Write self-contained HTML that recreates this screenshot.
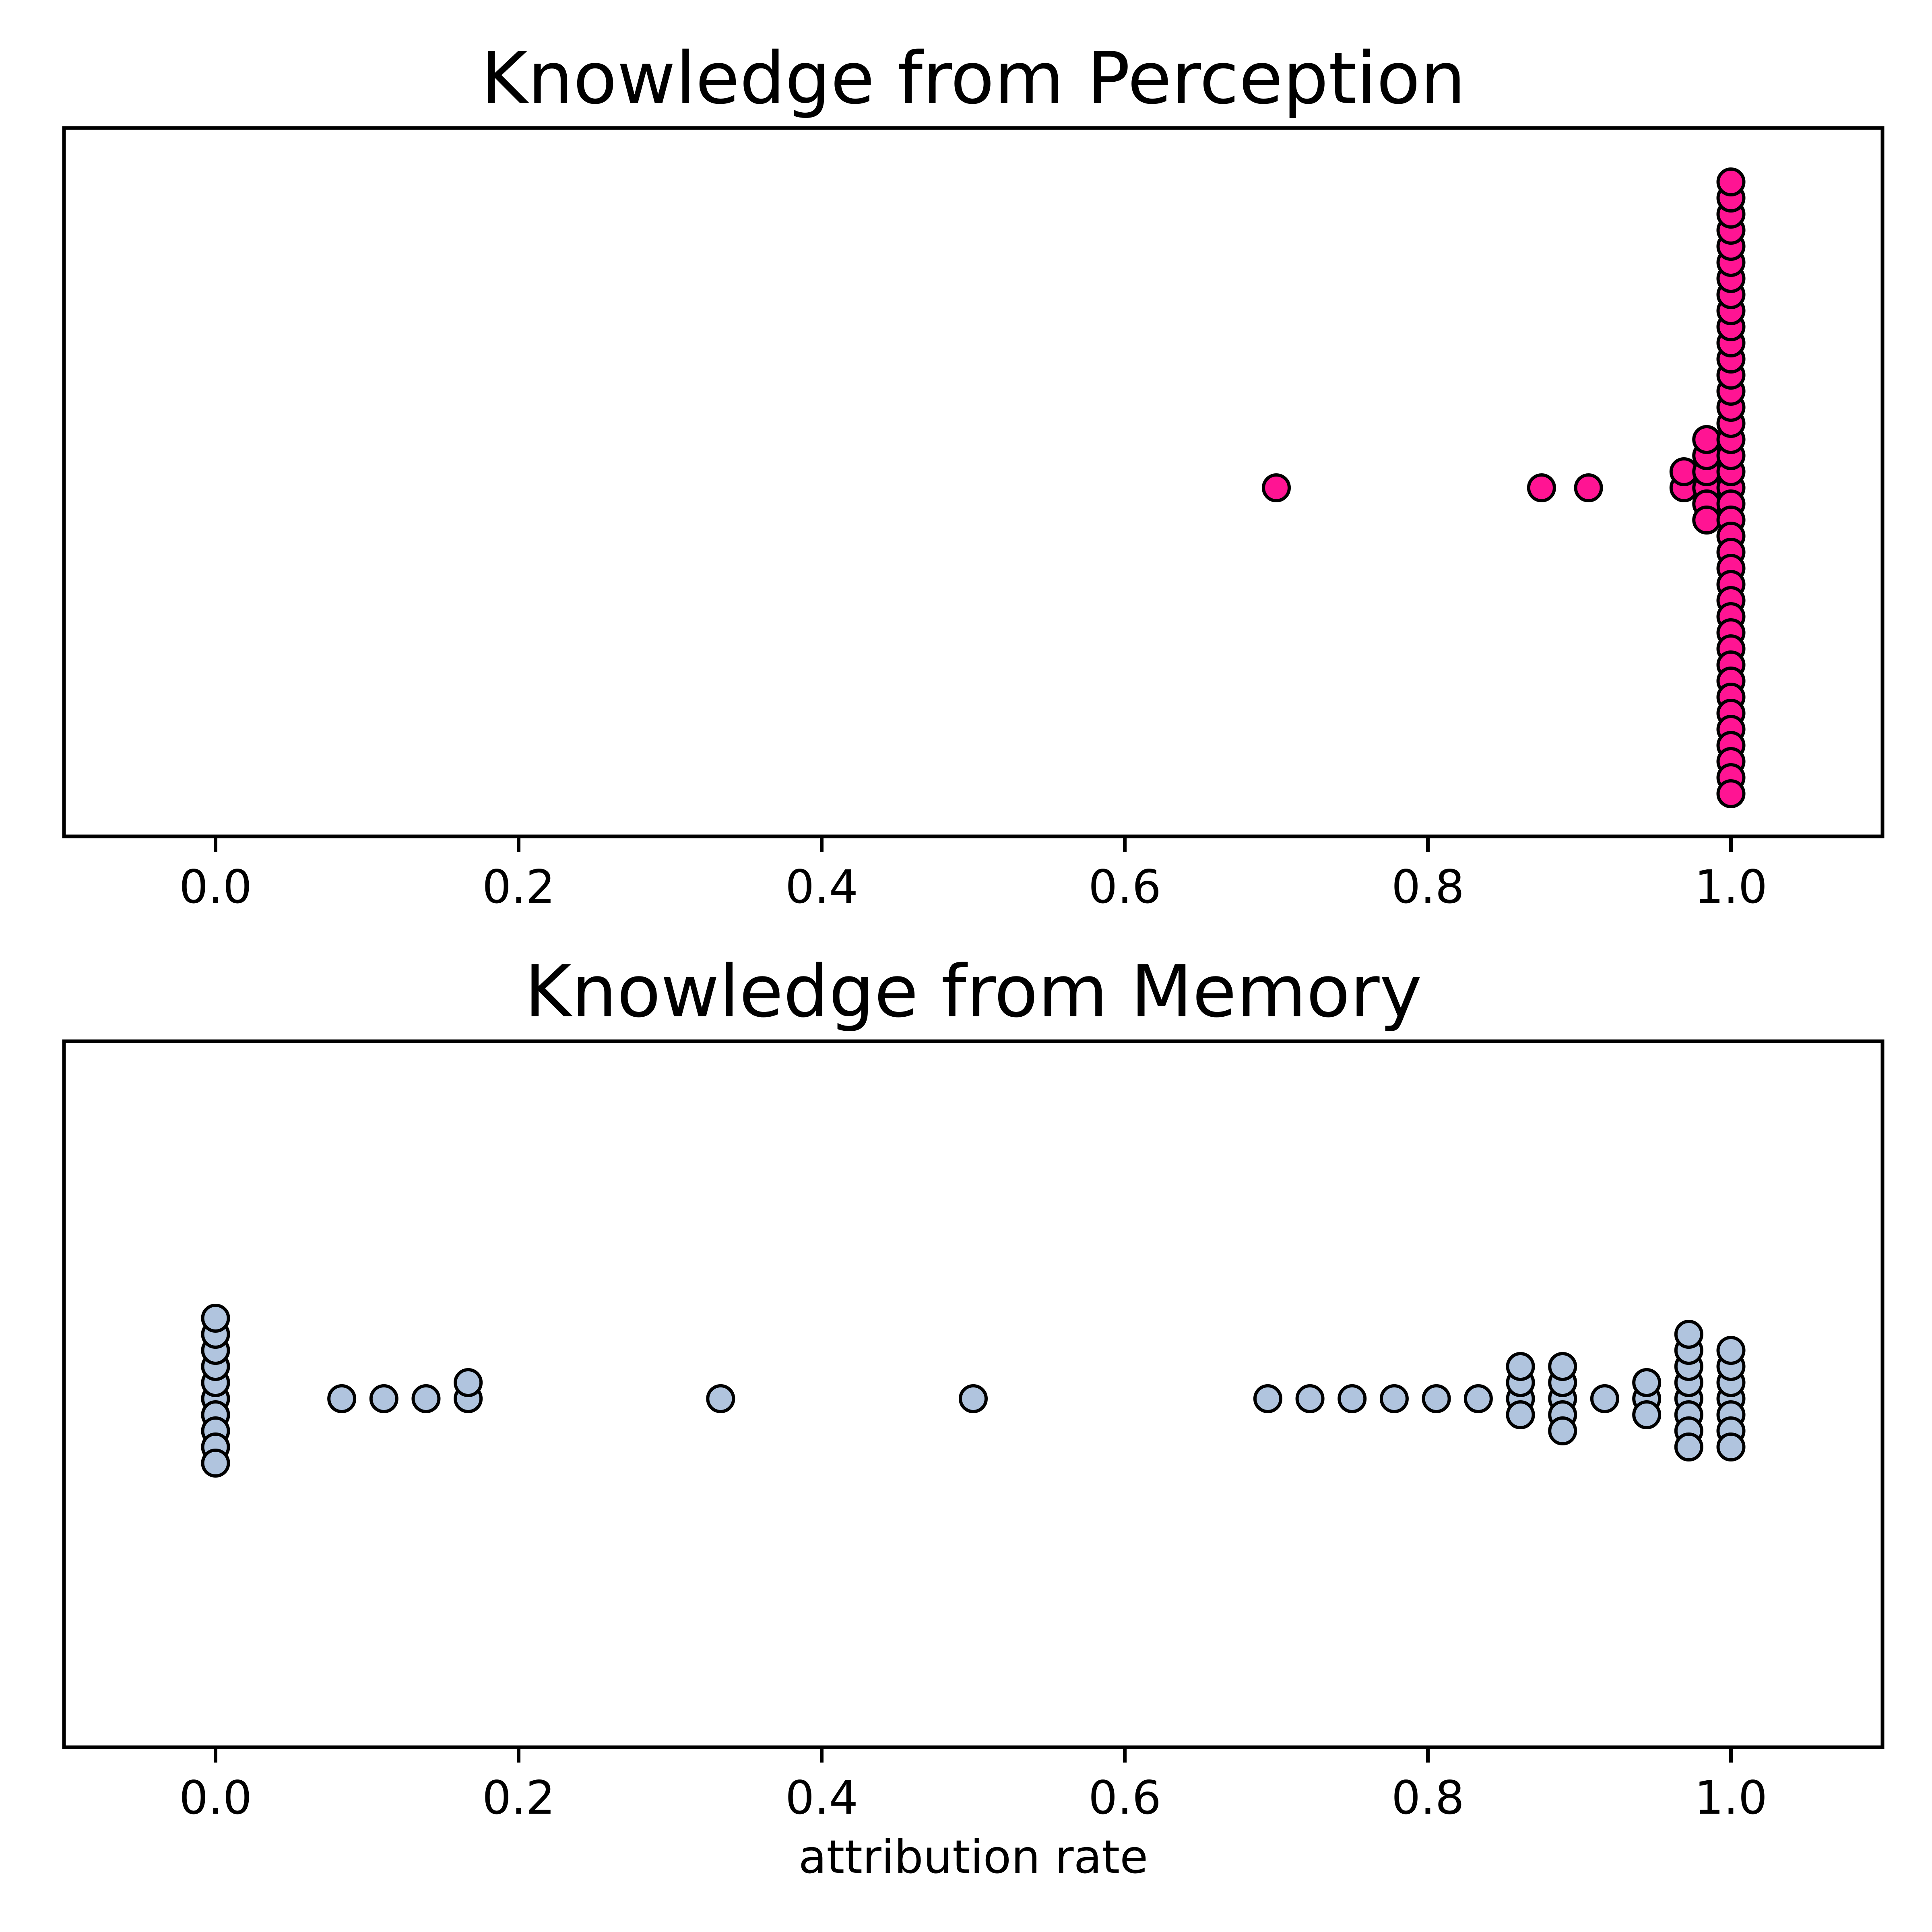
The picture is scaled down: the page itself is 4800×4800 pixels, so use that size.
<!DOCTYPE html>
<html><head><meta charset="utf-8"><style>
html,body{margin:0;padding:0;background:#fff;}
svg{display:block;}
text{font-family:"DejaVu Sans","Liberation Sans",sans-serif;fill:#000;}
</style></head>
<body>
<svg id="fig" width="4800" height="4800" viewBox="0 0 4800 4800" xmlns="http://www.w3.org/2000/svg">
<rect width="4800" height="4800" fill="#fff"/>
</svg>
<script>
const tickValues = [0.0, 0.2, 0.4, 0.6, 0.8, 1.0];
const tickLabels = ["0.0", "0.2", "0.4", "0.6", "0.8", "1.0"];
const perceptionValues = [0.7, 0.875, 0.906, 0.969, 0.969,
  0.984, 0.984, 0.984, 0.984, 0.984, 0.984,
  1,1,1,1,1,1,1,1,1,1,1,1,1,1,1,1,1,1,1,1,1,1,1,1,1,1,1,1,1,1,1,1,1,1,1,1,1,1,1];
const memoryValues = [0,0,0,0,0,0,0,0,0,0,
  0.0833, 0.1111, 0.1389, 0.1667, 0.1667, 0.3333, 0.5,
  0.6944, 0.7222, 0.75, 0.7778, 0.8056, 0.8333,
  0.8611, 0.8611, 0.8611, 0.8611,
  0.8889, 0.8889, 0.8889, 0.8889, 0.8889,
  0.9167, 0.9444, 0.9444, 0.9444,
  0.9722,0.9722,0.9722,0.9722,0.9722,0.9722,0.9722,0.9722,
  1,1,1,1,1,1,1];
const panelTitles = ["Knowledge from Perception", "Knowledge from Memory"];
const xLabelText = "attribution rate";

const NS = "http://www.w3.org/2000/svg";
const svg = document.getElementById("fig");
const AX_L = 159, AX_R = 4677;
const XMIN = -0.1, XMAX = 1.1;
function xScale(v){ return AX_L + (v - XMIN) / (XMAX - XMIN) * (AX_R - AX_L); }
function mk(tag, attrs, parent){
  const e = document.createElementNS(NS, tag);
  for (const k in attrs) e.setAttribute(k, attrs[k]);
  (parent || svg).appendChild(e);
  return e;
}
const COLL_X = 0.012, STEP = 40;
function swarm(values){
  const pts = values.map((v,i)=>({v:v,i:i})).sort((a,b)=>a.v-b.v);
  const placed = [];
  pts.forEach(p=>{
    const near = placed.filter(q=>Math.abs(q.v-p.v) < COLL_X);
    const cands = [0];
    near.forEach(q=>{
      const dx = (q.v-p.v)/COLL_X;
      const dy = Math.sqrt(Math.max(0,1-dx*dx));
      cands.push(q.o+dy, q.o-dy);
    });
    cands.sort((a,b)=>Math.abs(a)-Math.abs(b) || b-a);
    let off = 0;
    for (const c of cands){
      const ok = near.every(q=>{
        const dx=(q.v-p.v)/COLL_X, dy=q.o-c;
        return dx*dx+dy*dy >= 0.999;
      });
      if (ok){ off = c; break; }
    }
    p.o = off;
    placed.push(p);
  });
  return placed.sort((a,b)=>a.i-b.i);
}

const panels = [
  {top:318, bottom:2078, values:perceptionValues, color:"#ff1493", titleY:256, name:"perception", shift:14},
  {top:2587, bottom:4341, values:memoryValues, color:"#b0c4de", titleY:2525, name:"memory", shift:11}
];
panels.forEach((P, pi)=>{
  const g = mk("g", {});
  
  
  const t = mk("text", {x:(AX_L+AX_R)/2, y:P.titleY, "font-size":178, "text-anchor":"middle"}, g);
  t.textContent = panelTitles[pi];
  
  
  const cy = (P.top + P.bottom)/2 + P.shift;
  const pg = mk("g", {}, g);
  
  
  swarm(P.values).forEach(p=>{
    const c = mk("circle", {cx:xScale(p.v), cy:cy - p.o*STEP, r:32, fill:P.color, stroke:"#000", "stroke-width":8}, pg);
    
    
  });
  const fr = mk("rect", {x:AX_L, y:P.top, width:AX_R-AX_L, height:P.bottom-P.top, fill:"none", stroke:"#000", "stroke-width":9}, g);
  
  
  tickValues.forEach((tv, ti)=>{
    const x = xScale(tv);
    const tk = mk("line", {x1:x, x2:x, y1:P.bottom, y2:P.bottom+38, stroke:"#000", "stroke-width":9}, g);
    
    
    const tl = mk("text", {x:x, y:P.bottom+165, "font-size":114, "text-anchor":"middle"}, g);
    tl.textContent = tickLabels[ti];
    
    
  });
});
const xl = mk("text", {x:(AX_L+AX_R)/2, y:4653, "font-size":114, "text-anchor":"middle"});
xl.textContent = xLabelText;


</script>
</body></html>
